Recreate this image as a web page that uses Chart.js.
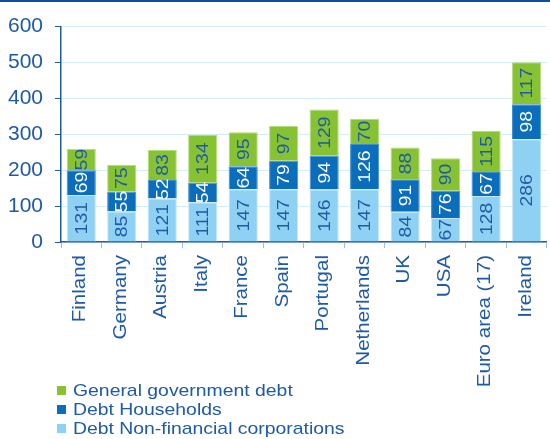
<!DOCTYPE html>
<html lang="en">
<head>
    <meta charset="UTF-8">
    <title>Debt by sector</title>
    <script src="https://cdn.jsdelivr.net/npm/chart.js"></script>
    <style>
        body { margin: 0; background: #fff; font-family: "Liberation Sans", Arial, sans-serif; }
        .wrap { position: relative; width: 550px; height: 439px; border-top: 2px solid #0b4fa0; box-sizing: border-box; }
        .chart-box { position: absolute; left: 0; top: 0; width: 550px; height: 437px; }
        .legend { position: absolute; left: 57px; top: 379px; color: #1f5aa6; font-size: 17px; line-height: 19px; }
        .legend div { display: flex; align-items: center; height: 19px; }
        .legend .sw { display: inline-block; width: 9px; height: 9px; margin-right: 7px; }
        .legend .txt { display: inline-block; transform: scaleX(1.14); transform-origin: left center; white-space: nowrap; }
    </style>
</head>
<body>
    <div class="wrap">
        <div class="chart-box"><canvas id="debtChart"></canvas></div>
        <div class="legend" id="legend"></div>
    </div>

    <script>
        // Chart data
        const countries = ['Finland', 'Germany', 'Austria', 'Italy', 'France', 'Spain', 'Portugal', 'Netherlands', 'UK', 'USA', 'Euro area (17)', 'Ireland'];
        const corporateDebt = [131, 85, 121, 111, 147, 147, 146, 147, 84, 67, 128, 286];
        const householdDebt = [69, 55, 52, 54, 64, 79, 94, 126, 91, 76, 67, 98];
        const governmentDebt = [59, 75, 83, 134, 95, 97, 129, 70, 88, 90, 115, 117];
        const yTicks = [0, 100, 200, 300, 400, 500, 600];

        const textBlue = '#1f5aa6';
        const fontFamily = '"Liberation Sans", Arial, sans-serif';
        const stretch = 1.14; // the source font runs a bit wider than Arial

        // rotated text reading bottom to top, stretched along its length
        function drawRotated(ctx, text, x, y, align) {
            ctx.save();
            ctx.translate(x, y);
            ctx.rotate(-Math.PI / 2);
            ctx.scale(stretch, 1);
            ctx.textAlign = align;
            ctx.fillText(text, 0, 0);
            ctx.restore();
        }

        // values inside each segment + category labels under the axis
        const customText = {
            id: 'customText',
            afterDatasetsDraw(chart) {
                const ctx = chart.ctx;
                ctx.save();
                ctx.font = '17px ' + fontFamily;
                ctx.textBaseline = 'middle';
                chart.data.datasets.forEach((ds, i) => {
                    chart.getDatasetMeta(i).data.forEach((bar, j) => {
                        ctx.fillStyle = ds.labelColor;
                        drawRotated(ctx, String(ds.data[j]), bar.x + 1, (bar.y + bar.base) / 2, 'center');
                    });
                });
                ctx.restore();
            },
            afterDraw(chart) {
                const ctx = chart.ctx;
                const xs = chart.scales.x;
                ctx.save();
                ctx.font = '18px ' + fontFamily;
                ctx.textBaseline = 'middle';
                ctx.fillStyle = textBlue;
                chart.data.labels.forEach((lab, i) => {
                    drawRotated(ctx, lab, xs.getPixelForValue(i) - 1, xs.top + 13, 'right');
                });
                ctx.restore();
            }
        };

        const ctx = document.getElementById('debtChart').getContext('2d');
        const debtChart = new Chart(ctx, {
            type: 'bar',
            data: {
                labels: countries,
                datasets: [
                    { label: 'Debt Non-financial corporations', data: corporateDebt, backgroundColor: '#8ed1f3', borderColor: '#c4e8f8', borderWidth: 1, labelColor: textBlue },
                    { label: 'Debt Households', data: householdDebt, backgroundColor: '#0a6ebd', borderColor: '#3d8fd0', borderWidth: 1, labelColor: '#ffffff' },
                    { label: 'General government debt', data: governmentDebt, backgroundColor: '#86c232', borderColor: '#b4dc80', borderWidth: 1, labelColor: textBlue }
                ]
            },
            options: {
                responsive: true,
                maintainAspectRatio: false,
                animation: false,
                layout: { padding: { top: 20, right: 0, left: 0, bottom: 0 } },
                datasets: { bar: { categoryPercentage: 0.72, barPercentage: 1 } },
                plugins: { legend: { display: false }, tooltip: { enabled: false } },
                scales: {
                    x: {
                        stacked: true,
                        afterFit(axis) { axis.height = 197; },
                        grid: { drawOnChartArea: false, drawTicks: true, tickLength: 6, tickColor: '#9dbde0', offset: true },
                        border: { color: textBlue, width: 1.5 },
                        ticks: { color: 'rgba(0,0,0,0)', minRotation: 90, maxRotation: 90, font: { family: fontFamily, size: 17 } }
                    },
                    y: {
                        stacked: true,
                        min: 0,
                        max: 600,
                        afterFit(axis) { axis.width = 61; },
                        afterBuildTicks(axis) { axis.ticks = yTicks.map(v => ({ value: v })); },
                        grid: { color: '#d4ebf8', tickColor: textBlue, tickLength: 6 },
                        border: { color: textBlue, width: 1.5 },
                        ticks: { color: textBlue, padding: 12, font: { family: fontFamily, size: 21 } }
                    }
                }
            },
            plugins: [customText]
        });

        // legend, top to bottom in reverse stack order
        const legend = document.getElementById('legend');
        debtChart.data.datasets.slice().reverse().forEach(ds => {
            const row = document.createElement('div');
            row.innerHTML = '<span class="sw" style="background:' + ds.backgroundColor + '"></span><span class="txt">' + ds.label + '</span>';
            legend.appendChild(row);
        });
    </script>
</body>
</html>
